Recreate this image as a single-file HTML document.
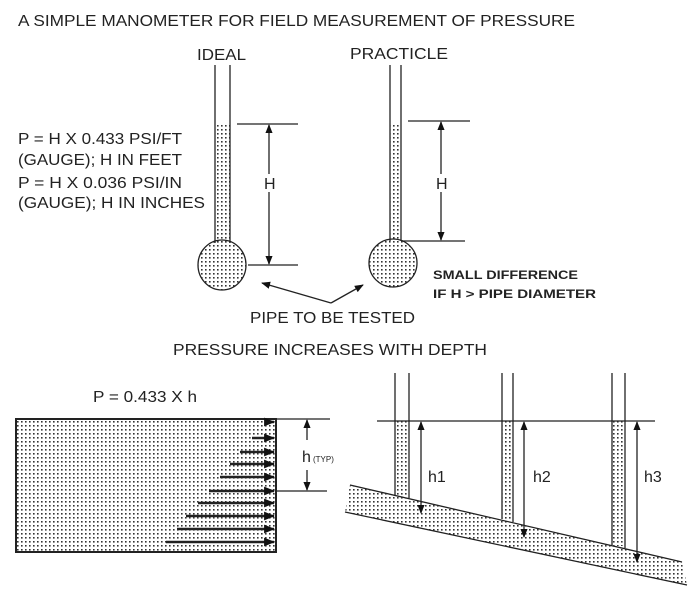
<!DOCTYPE html>
<html><head><style>
html,body{margin:0;padding:0;background:#fff;}
svg{display:block;}
text{font-family:"Liberation Sans",sans-serif;fill:#222;}
</style></head><body>
<svg width="700" height="605" viewBox="0 0 700 605" xmlns="http://www.w3.org/2000/svg">
<defs>
<pattern id="d" width="4" height="4" patternUnits="userSpaceOnUse">
<rect x="1" y="1" width="1.6" height="1.6" fill="#333"/>
</pattern>
<marker id="a" viewBox="0 0 10 10" refX="9" refY="5" markerWidth="9" markerHeight="9" markerUnits="userSpaceOnUse" orient="auto-start-reverse">
<path d="M0,1 L10,5 L0,9 z" fill="#111"/>
</marker>
<marker id="b" viewBox="0 0 10 10" refX="9" refY="5" markerWidth="11" markerHeight="11" markerUnits="userSpaceOnUse" orient="auto">
<path d="M0,1 L10,5 L0,9 z" fill="#111"/>
</marker>
</defs>
<g stroke="#222" stroke-width="1.3" fill="none">
<rect x="215" y="123" width="15" height="120" fill="url(#d)" stroke="none"/>
<line x1="215" y1="65" x2="215" y2="243"/><line x1="230" y1="65" x2="230" y2="243"/>
<ellipse cx="222" cy="265" rx="24" ry="25" fill="url(#d)"/>
<line x1="237" y1="124" x2="298" y2="124"/><line x1="248" y1="265" x2="298" y2="265"/>
<line x1="269" y1="125" x2="269" y2="264" marker-start="url(#a)" marker-end="url(#a)"/>
<rect x="390" y="123" width="11" height="118" fill="url(#d)" stroke="none"/>
<line x1="390" y1="65" x2="390" y2="241"/><line x1="401" y1="65" x2="401" y2="241"/>
<ellipse cx="393" cy="263" rx="24" ry="24" fill="url(#d)"/>
<line x1="408" y1="121" x2="470" y2="121"/><line x1="402" y1="241" x2="465" y2="241"/>
<line x1="441" y1="122" x2="441" y2="240" marker-start="url(#a)" marker-end="url(#a)"/>
<line x1="331" y1="303" x2="262" y2="283" marker-end="url(#a)"/>
<line x1="331" y1="303" x2="363" y2="285" marker-end="url(#a)"/>
<rect x="16" y="419" width="260" height="133" fill="url(#d)" stroke-width="2"/>
<g stroke-width="2.5">
<line x1="266" y1="422" x2="274" y2="422" marker-end="url(#b)"/>
<line x1="252" y1="438" x2="274" y2="438" marker-end="url(#b)"/>
<line x1="240" y1="452" x2="274" y2="452" marker-end="url(#b)"/>
<line x1="230" y1="464" x2="274" y2="464" marker-end="url(#b)"/>
<line x1="220" y1="477" x2="274" y2="477" marker-end="url(#b)"/>
<line x1="209" y1="491" x2="274" y2="491" marker-end="url(#b)"/>
<line x1="198" y1="503" x2="274" y2="503" marker-end="url(#b)"/>
<line x1="186" y1="516" x2="274" y2="516" marker-end="url(#b)"/>
<line x1="177" y1="529" x2="274" y2="529" marker-end="url(#b)"/>
<line x1="166" y1="542" x2="274" y2="542" marker-end="url(#b)"/>
</g>
<line x1="276" y1="419" x2="330" y2="419"/><line x1="276" y1="491" x2="327" y2="491"/>
<line x1="307" y1="440" x2="307" y2="420" marker-end="url(#a)"/>
<line x1="307" y1="470" x2="307" y2="490" marker-end="url(#a)"/>
<polygon points="350,485 682,562 687,585 345,512" fill="url(#d)" stroke="none"/>
<line x1="350" y1="485" x2="682" y2="562"/><line x1="345" y1="512" x2="687" y2="585"/>
<rect x="395" y="421" width="14" height="76" fill="url(#d)" stroke="none"/>
<rect x="502" y="421" width="11" height="100" fill="url(#d)" stroke="none"/>
<rect x="612" y="421" width="13" height="125" fill="url(#d)" stroke="none"/>
<line x1="395" y1="373" x2="395" y2="495"/><line x1="409" y1="373" x2="409" y2="498"/>
<line x1="502" y1="373" x2="502" y2="519"/><line x1="513" y1="373" x2="513" y2="522"/>
<line x1="612" y1="373" x2="612" y2="545"/><line x1="625" y1="373" x2="625" y2="548"/>
<line x1="377" y1="421" x2="655" y2="421"/>
<line x1="421" y1="422" x2="421" y2="513" marker-start="url(#a)" marker-end="url(#a)"/>
<line x1="524" y1="422" x2="524" y2="537" marker-start="url(#a)" marker-end="url(#a)"/>
<line x1="637" y1="422" x2="637" y2="562" marker-start="url(#a)" marker-end="url(#a)"/>
</g>
<rect x="262" y="174" width="16" height="18" fill="#fff"/>
<rect x="434" y="174" width="16" height="18" fill="#fff"/>
<g font-size="16">
<text x="18" y="26" textLength="557" lengthAdjust="spacingAndGlyphs">A SIMPLE MANOMETER  FOR FIELD MEASUREMENT OF PRESSURE</text>
<text x="197" y="60" textLength="49" lengthAdjust="spacingAndGlyphs">IDEAL</text>
<text x="350" y="59" textLength="98" lengthAdjust="spacingAndGlyphs">PRACTICLE</text>
<text x="18" y="144" textLength="164" lengthAdjust="spacingAndGlyphs">P = H X 0.433 PSI/FT</text>
<text x="18" y="165" textLength="164" lengthAdjust="spacingAndGlyphs">(GAUGE); H IN FEET</text>
<text x="18" y="188" textLength="164" lengthAdjust="spacingAndGlyphs">P = H X 0.036 PSI/IN</text>
<text x="18" y="208" textLength="187" lengthAdjust="spacingAndGlyphs">(GAUGE); H IN INCHES</text>
<text x="264" y="189">H</text>
<text x="436" y="189">H</text>
<text x="433" y="279" font-size="12" font-weight="bold" textLength="145" lengthAdjust="spacingAndGlyphs">SMALL DIFFERENCE</text>
<text x="433" y="298" font-size="12" font-weight="bold" textLength="163" lengthAdjust="spacingAndGlyphs">IF H &gt; PIPE DIAMETER</text>
<text x="250" y="323" textLength="165" lengthAdjust="spacingAndGlyphs">PIPE TO BE TESTED</text>
<text x="173" y="355" textLength="314" lengthAdjust="spacingAndGlyphs">PRESSURE INCREASES WITH DEPTH</text>
<text x="93" y="402" textLength="104" lengthAdjust="spacingAndGlyphs">P = 0.433 X h</text>
<text x="302" y="462">h</text><text x="313" y="462" font-size="8">(TYP)</text>
<text x="428" y="482">h1</text>
<text x="533" y="482">h2</text>
<text x="644" y="482">h3</text>
</g>
</svg>
</body></html>
